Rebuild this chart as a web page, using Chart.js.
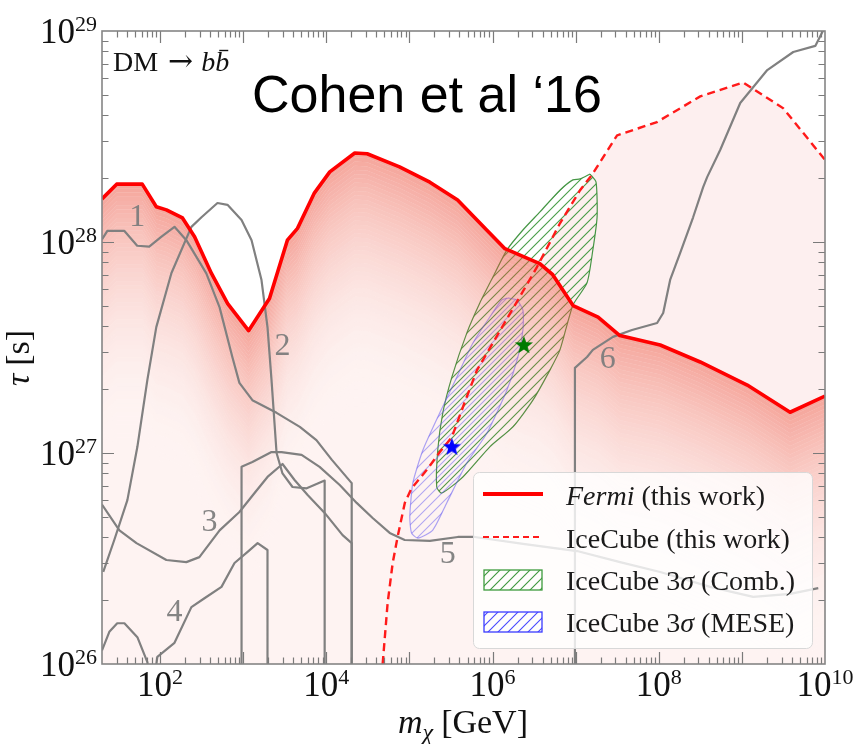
<!DOCTYPE html>
<html>
<head>
<meta charset="utf-8">
<script src="https://cdn.jsdelivr.net/npm/chart.js@4.4.1/dist/chart.umd.min.js"></script>
<style>
  html, body { margin: 0; padding: 0; background: #fff; }
  #wrap { width: 855px; height: 744px; }
</style>
</head>
<body>
<div id="wrap"><canvas id="dmChart" width="855" height="744"></canvas></div>
<script>
// DM -> b bbar: lifetime limits (mass in GeV, tau in s)
const fermiMass = [2e1, 3e1, 6.1e1, 9e1, 1.19e2, 1.86e2, 2.6e2, 4.15e2, 6.5e2, 1.16e3, 2.07e3, 3.4e3, 4.5e3, 7.2e3, 1.1e4, 2.2e4, 3.1e4, 7.6e4, 1.76e5, 3.8e5, 8.5e5, 1.41e6, 3.7e6, 5.3e6, 9.3e6, 1.86e7, 3.4e7, 1.04e8, 3.15e8, 1.16e9, 3.8e9, 1e10];
const fermiTau = [1.6e28, 1.88e28, 1.88e28, 1.47e28, 1.42e28, 1.3e28, 1.06e28, 7.1e27, 5.1e27, 3.8e27, 5.4e27, 1.02e28, 1.16e28, 1.71e28, 2.15e28, 2.64e28, 2.62e28, 2.27e28, 1.92e28, 1.58e28, 1.14e28, 9.3e27, 7.9e27, 7.0e27, 5.0e27, 4.4e27, 3.6e27, 3.25e27, 2.7e27, 2.1e27, 1.56e27, 1.86e27];

const iceMass = [4.76e4, 5.47e4, 6.28e4, 7.2e4, 8.8e4, 1.06e5, 1.61e5, 2.32e5, 3.24e5, 4.6e5, 6.5e5, 1.96e6, 3.42e6, 6.5e6, 1.13e7, 1.57e7, 3.15e7, 9.5e7, 3.15e8, 1.04e9, 3.15e9, 1e10];
const iceTau = [1e26, 1.95e26, 3.0e26, 4.0e26, 5.8e26, 6.8e26, 8.3e26, 1.01e27, 1.19e27, 1.73e27, 2.47e27, 5.2e27, 7.6e27, 1.23e28, 1.76e28, 2.08e28, 3.2e28, 3.7e28, 4.9e28, 5.7e28, 4.3e28, 2.45e28];

// older limits, numbered 1-6 on the plot
const line1Mass = [2e1, 2.32e1, 3.7e1, 5.3e1, 7.4e1, 1.04e2, 1.49e2, 2.07e2, 3.6e2, 5.2e2, 7.4e2, 9e2, 1.29e3, 2.52e3, 4.8e3, 7.6e3, 1.16e4, 2.02e4, 2.02e4];
const line1Tau = [1.03e28, 1.13e28, 1.13e28, 9.6e27, 9.5e27, 1.06e28, 1.18e28, 1.02e28, 7.1e27, 4.9e27, 2.85e27, 2.15e27, 1.78e27, 1.55e27, 1.33e27, 1.15e27, 9.3e26, 7.2e26, 5e25];
const line2Mass = [2.07e1, 2.81e1, 4.04e1, 5.33e1, 7.03e1, 9e1, 1.37e2, 2.38e2, 3.15e2, 4.9e2, 6.47e2, 9.55e2, 1.26e3, 1.66e3, 1.96e3, 2.19e3, 2.52e3, 2.97e3, 3.92e3, 5.8e3, 9.55e3, 9.55e3];
const line2Tau = [2.73e26, 3.87e26, 5.98e26, 1.07e27, 2.22e27, 3.95e27, 7.13e27, 1.18e28, 1.31e28, 1.53e28, 1.5e28, 1.27e28, 1.02e28, 6.6e27, 3.95e27, 2.22e27, 1.0e27, 8.0e26, 6.9e26, 6.8e26, 7.4e26, 5e25];
const line3Mass = [2e1, 3.24e1, 5.2e1, 1.19e2, 2.07e2, 2.97e2, 5.2e2, 9e2, 1.37e3, 1.96e3, 2.97e3, 4.15e3, 5.96e3, 9.55e3, 1.57e4, 2.02e4, 2.02e4];
const line3Tau = [5.7e26, 4.3e26, 3.74e26, 3.11e26, 3.04e26, 3.21e26, 4.3e26, 5.25e26, 6.46e26, 7.7e26, 8.87e26, 7.45e26, 6.32e26, 5.2e26, 4.08e26, 3.74e26, 5e25];
const line4Mass = [2e1, 2.45e1, 3.05e1, 3.72e1, 5.33e1, 7.03e1, 7.85e1, 9.27e1, 1.49e2, 2.38e2, 3.42e2, 5.48e2, 7.86e2, 1.13e3, 1.49e3, 1.96e3, 1.96e3];
const line4Tau = [1.16e26, 1.42e26, 1.56e26, 1.56e26, 1.34e26, 1.02e26, 6.7e25, 1.08e26, 1.26e26, 1.86e26, 2.05e26, 2.32e26, 3.01e26, 3.4e26, 3.74e26, 3.47e26, 5e25];
const line5Mass = [9.55e2, 9.55e2, 1.29e3, 2.19e3, 2.89e3, 5.04e3, 8.3e3, 1.45e4, 2.32e4, 3.61e4, 5.79e4, 8.77e4, 1.76e5, 3.82e5, 6.12e5, 2.45e6, 1.04e7, 3.42e7, 1.04e8, 4.15e8, 1.37e9, 3.82e9, 8.3e9];
const line5Tau = [5e25, 8.6e26, 9.06e26, 1.01e27, 1.01e27, 9.8e26, 8.6e26, 7.05e26, 5.8e26, 4.92e26, 4.18e26, 3.87e26, 3.83e26, 4.0e26, 4.0e26, 3.7e26, 3.43e26, 3.04e26, 2.73e26, 2.32e26, 2.08e26, 2.15e26, 2.29e26];
const line6Mass = [9.8e6, 9.8e6, 1.37e7, 1.61e7, 2.81e7, 4.76e7, 9.55e7, 1.13e8, 1.37e8, 1.81e8, 2.59e8, 3.42e8, 3.82e8, 5.48e8, 9.55e8, 2.02e9, 4.15e9, 7.64e9, 9.55e9];
const line6Tau = [5e25, 2.53e27, 2.85e27, 3.08e27, 3.55e27, 3.83e27, 4.13e27, 4.61e27, 6.61e27, 8.87e27, 1.31e28, 1.82e28, 2.03e28, 2.73e28, 4.56e28, 6.53e28, 7.95e28, 8.5e28, 1.01e29];

// IceCube 3 sigma regions (closed outlines)
const combMass = [1.49e7, 1.76e7, 1.81e7, 1.61e7, 1.37e7, 9.27e6, 6.47e6, 4.9e6, 3.06e6, 1.76e6, 9.27e5, 4.39e5, 2.45e5, 2.13e5, 2.19e5, 2.52e5, 3.24e5, 4.91e5, 7.03e5, 1.01e6, 1.49e6, 2.32e6, 3.72e6, 6.47e6, 9.27e6, 1.13e7, 1.49e7];
const combTau = [2.1e28, 1.92e28, 1.31e28, 9.17e27, 6.4e27, 5.02e27, 3.08e27, 2.47e27, 1.78e27, 1.33e27, 1.07e27, 7.69e26, 6.46e26, 6.9e26, 1.03e27, 1.55e27, 2.29e27, 3.71e27, 5.14e27, 6.82e27, 9.17e27, 1.14e28, 1.39e28, 1.76e28, 1.97e28, 1.99e28, 2.1e28];
const meseMass = [1.53e6, 1.29e6, 9.27e5, 5.8e5, 3.72e5, 2.32e5, 1.45e5, 1.1e5, 1.01e5, 1.06e5, 1.26e5, 1.91e5, 2.81e5, 4.9e5, 8.55e5, 1.49e6, 2.02e6, 2.32e6, 2.32e6, 1.96e6, 1.53e6];
const meseTau = [5.43e27, 5.31e27, 4.41e27, 3.32e27, 2.29e27, 1.55e27, 1.03e27, 7.21e26, 4.98e26, 4.18e26, 3.95e26, 4.31e26, 5.8e26, 8.97e26, 1.24e27, 1.99e27, 2.85e27, 3.83e27, 4.76e27, 5.31e27, 5.43e27];

// best fit points
const meseBestMass = [3.24e5];
const meseBestTau = [1.07e27];
const combBestMass = [2.38e6];
const combBestTau = [3.25e27];

// numbers next to the older limits
const curveNames = ['1', '2', '3', '4', '5', '6'];
const curveNameMass = [5.3e1, 2.97e3, 3.93e2, 1.49e2, 2.89e5, 2.44e7];
const curveNameTau = [1.3e28, 3.18e27, 4.66e26, 1.75e26, 3.29e26, 2.76e27];

const xTickExps = [2, 4, 6, 8, 10];
const yTickExps = [26, 27, 28, 29];

const SERIF = '"Liberation Serif", "DejaVu Serif", serif';
const canvas = document.getElementById('dmChart');
const ctx = canvas.getContext('2d');

function pts(ms, ts) {
  return ms.map((m, i) => ({ x: m, y: ts[i] }));
}

function hatch(color, lw, shift) {
  const c = document.createElement('canvas');
  c.width = 10; c.height = 10;
  const g = c.getContext('2d');
  g.strokeStyle = color;
  g.lineWidth = lw;
  g.beginPath();
  g.moveTo(-1, 11); g.lineTo(11, -1);
  g.moveTo(-6, 6); g.lineTo(6, -6);
  g.moveTo(4, 16); g.lineTo(16, 4);
  g.stroke();
  const p = ctx.createPattern(c, 'repeat');
  if (shift) p.setTransform(new DOMMatrix().translate(shift, 0));
  return p;
}

function star(color) {
  const c = document.createElement('canvas');
  c.width = 22; c.height = 22;
  const g = c.getContext('2d');
  g.fillStyle = color;
  g.beginPath();
  for (let i = 0; i < 10; i++) {
    const r = i % 2 ? 4 : 9.5;
    const a = -Math.PI / 2 + i * Math.PI / 5;
    g.lineTo(11 + r * Math.cos(a), 11.5 + r * Math.sin(a));
  }
  g.closePath();
  g.fill();
  return c;
}

const greenHatch = hatch('rgba(40,140,40,0.85)', 1.1, 0);
const blueHatch = hatch('rgba(70,70,255,0.45)', 1.1, 5);

// fermi fill: thin bands under the limit that fade out downward
const FADE = 60;
const FADE_STEP = Math.pow(10, -0.02);
function fermiBand(k) {
  return fermiMass.map((m, i) => ({ x: m, y: fermiTau[i] * Math.pow(FADE_STEP, k) }));
}

const datasets = [];
datasets.push({
  data: pts(iceMass, iceTau),
  fill: { target: 3, above: 'rgba(230,40,40,0.075)', below: 'rgba(0,0,0,0)' },
  borderWidth: 0, pointRadius: 0, order: 100
});
datasets.push({
  data: pts(combMass, combTau), fill: 'shape', backgroundColor: greenHatch,
  borderColor: 'rgba(50,140,50,0.9)', borderWidth: 1.2, pointRadius: 0, tension: 0.2, order: 90
});
datasets.push({
  data: pts(meseMass, meseTau), fill: 'shape', backgroundColor: blueHatch,
  borderColor: 'rgba(80,80,255,0.5)', borderWidth: 1.2, pointRadius: 0, tension: 0.2, order: 88
});
// index 3 is the first band (same curve as the fermi limit)
for (let k = 0; k < FADE; k++) {
  const a = 0.065 + 0.44 * Math.pow(1 - k / FADE, 2.2);
  datasets.push({
    data: fermiBand(k), fill: '+1', backgroundColor: 'rgba(235,80,60,' + a.toFixed(3) + ')',
    borderWidth: 0, pointRadius: 0, order: 80
  });
}
datasets.push({
  data: fermiBand(FADE), fill: 'start', backgroundColor: 'rgba(235,80,60,0.065)',
  borderWidth: 0, pointRadius: 0, order: 80
});

const greyLines = [
  [line1Mass, line1Tau], [line2Mass, line2Tau], [line3Mass, line3Tau],
  [line4Mass, line4Tau], [line5Mass, line5Tau], [line6Mass, line6Tau]
];
greyLines.forEach(([m, t]) => {
  datasets.push({
    data: pts(m, t), fill: false, borderColor: '#808080', borderWidth: 2.2,
    borderJoinStyle: 'round', pointRadius: 0, order: 50
  });
});

datasets.push({
  data: pts(fermiMass, fermiTau), fill: false, borderColor: '#ff0000', borderWidth: 3.6,
  borderJoinStyle: 'round', pointRadius: 0, order: 20
});
datasets.push({
  data: pts(iceMass, iceTau), fill: false, borderColor: '#ff1a1a', borderWidth: 2.4,
  borderDash: [8, 5], pointRadius: 0, order: 15
});
datasets.push({
  data: pts(meseBestMass, meseBestTau), showLine: false, pointStyle: star('#0000ff'), order: 5
});
datasets.push({
  data: pts(combBestMass, combBestTau), showLine: false, pointStyle: star('#007a00'), order: 5
});

function runs(c, list, x, y, align) {
  let total = 0;
  list.forEach(r => { c.font = r.font; r.w = c.measureText(r.t).width; total += r.w + (r.gap || 0); });
  let cx = align === 'center' ? x - total / 2 : align === 'right' ? x - total : x;
  const xs = [];
  list.forEach(r => {
    c.font = r.font;
    xs.push(cx);
    c.fillText(r.t, cx, y + (r.dy || 0));
    cx += r.w + (r.gap || 0);
  });
  return xs;
}

const decor = {
  id: 'decor',
  afterDatasetsDraw(chart) {
    const c = chart.ctx;
    const a = chart.chartArea;
    const xs = chart.scales.x, ys = chart.scales.y;
    c.save();

    // frame and inward ticks on all four sides
    c.strokeStyle = '#7a7a7a';
    c.lineWidth = 1.2;
    c.beginPath();
    for (let e = 1; e <= 10; e++) {
      for (let d = 1; d <= 9; d++) {
        const v = d * Math.pow(10, e);
        if (v <= xs.min || v >= xs.max) continue;
        const px = Math.round(xs.getPixelForValue(v)) + 0.5;
        const len = d === 1 ? 12 : 6.5;
        c.moveTo(px, a.bottom); c.lineTo(px, a.bottom - len);
        c.moveTo(px, a.top); c.lineTo(px, a.top + len);
      }
    }
    for (let e = 26; e <= 29; e++) {
      for (let d = 1; d <= 9; d++) {
        const v = d * Math.pow(10, e);
        if (v <= ys.min || v >= ys.max) continue;
        const py = Math.round(ys.getPixelForValue(v)) + 0.5;
        const len = d === 1 ? 12 : 6.5;
        c.moveTo(a.left, py); c.lineTo(a.left + len, py);
        c.moveTo(a.right, py); c.lineTo(a.right - len, py);
      }
    }
    c.stroke();
    c.lineWidth = 1.6;
    c.strokeStyle = '#858585';
    c.strokeRect(a.left, a.top, a.right - a.left, a.bottom - a.top);

    // tick labels
    c.fillStyle = '#111';
    c.textBaseline = 'alphabetic';
    c.textAlign = 'left';
    xTickExps.forEach(e => {
      const px = xs.getPixelForValue(Math.pow(10, e));
      runs(c, [{ t: '10', font: '35px ' + SERIF }, { t: String(e), font: '22px ' + SERIF, dy: -12 }], px, 696, 'center');
    });
    yTickExps.forEach(e => {
      const py = ys.getPixelForValue(Math.pow(10, e));
      runs(c, [{ t: '10', font: '35px ' + SERIF }, { t: String(e), font: '22px ' + SERIF, dy: -12 }], 97, py + 12, 'right');
    });

    // axis titles
    runs(c, [
      { t: 'm', font: 'italic 34px ' + SERIF },
      { t: '\u03c7', font: 'italic 24px ' + SERIF, dy: 7, gap: 8 },
      { t: '[GeV]', font: '34px ' + SERIF }
    ], 463, 733, 'center');
    c.save();
    c.translate(29, 358);
    c.rotate(-Math.PI / 2);
    runs(c, [{ t: '\u03c4', font: 'italic 34px ' + SERIF, gap: 8 }, { t: '[s]', font: '34px ' + SERIF }], 0, 0, 'center');
    c.restore();

    // channel label and citation
    const bx = runs(c, [
      { t: 'DM', font: '28px ' + SERIF, gap: 10 },
      { t: '\u2192', font: '30px "DejaVu Serif", serif', gap: 8 },
      { t: 'b', font: 'italic 28px ' + SERIF },
      { t: 'b', font: 'italic 28px ' + SERIF }
    ], 113, 71, 'left');
    c.strokeStyle = '#111';
    c.lineWidth = 1.4;
    c.beginPath();
    c.moveTo(bx[3] + 4, 50.5); c.lineTo(bx[3] + 13, 50.5);
    c.stroke();
    c.font = '52px "Liberation Sans", Arial, sans-serif';
    c.fillStyle = '#000';
    c.fillText('Cohen et al \u201816', 252, 112);

    // numbers on the older limits
    c.fillStyle = 'rgba(125,125,125,0.95)';
    c.font = '32px ' + SERIF;
    c.textAlign = 'center';
    c.textBaseline = 'middle';
    curveNames.forEach((n, i) => {
      c.fillText(n, xs.getPixelForValue(curveNameMass[i]), ys.getPixelForValue(curveNameTau[i]));
    });

    // legend
    c.textAlign = 'left';
    c.textBaseline = 'alphabetic';
    c.beginPath();
    c.roundRect(473.5, 472.5, 339, 176, 6);
    c.fillStyle = 'rgba(255,255,255,0.8)';
    c.fill();
    c.strokeStyle = '#d8d8d8';
    c.lineWidth = 1;
    c.stroke();

    c.lineCap = 'butt';
    c.strokeStyle = '#ff0000';
    c.lineWidth = 4;
    c.beginPath(); c.moveTo(483, 494); c.lineTo(543, 494); c.stroke();
    c.strokeStyle = '#ff1a1a';
    c.lineWidth = 2;
    c.setLineDash([6, 4]);
    c.beginPath(); c.moveTo(483, 537); c.lineTo(543, 537); c.stroke();
    c.setLineDash([]);

    c.fillStyle = hatch('rgba(40,140,40,0.9)', 1.1, 0);
    c.fillRect(484, 570, 58, 20);
    c.strokeStyle = '#3d9a3d';
    c.lineWidth = 1.3;
    c.strokeRect(484, 570, 58, 20);
    c.fillStyle = hatch('rgba(40,40,255,0.85)', 1.1, 0);
    c.fillRect(484, 612, 58, 20);
    c.strokeStyle = '#3a3aff';
    c.strokeRect(484, 612, 58, 20);

    c.fillStyle = '#1a1a1a';
    runs(c, [{ t: 'Fermi', font: 'italic 28px ' + SERIF, gap: 7 }, { t: '(this work)', font: '28px ' + SERIF }], 566, 505, 'left');
    runs(c, [{ t: 'IceCube (this work)', font: '28px ' + SERIF }], 566, 548, 'left');
    runs(c, [{ t: 'IceCube 3', font: '28px ' + SERIF }, { t: '\u03c3', font: 'italic 28px ' + SERIF, gap: 7 }, { t: '(Comb.)', font: '28px ' + SERIF }], 566, 590, 'left');
    runs(c, [{ t: 'IceCube 3', font: '28px ' + SERIF }, { t: '\u03c3', font: 'italic 28px ' + SERIF, gap: 7 }, { t: '(MESE)', font: '28px ' + SERIF }], 566, 632, 'left');

    c.restore();
  }
};

new Chart(canvas, {
  type: 'line',
  data: { datasets: datasets },
  options: {
    responsive: false,
    animation: false,
    events: [],
    devicePixelRatio: 1,
    layout: { padding: { left: 102, top: 31, right: 30, bottom: 80 } },
    scales: {
      x: { type: 'logarithmic', min: 20, max: 1e10, display: false },
      y: { type: 'logarithmic', min: 1e26, max: 1e29, display: false }
    },
    plugins: {
      legend: { display: false },
      tooltip: { enabled: false }
    }
  },
  plugins: [decor]
});
</script>
</body>
</html>
